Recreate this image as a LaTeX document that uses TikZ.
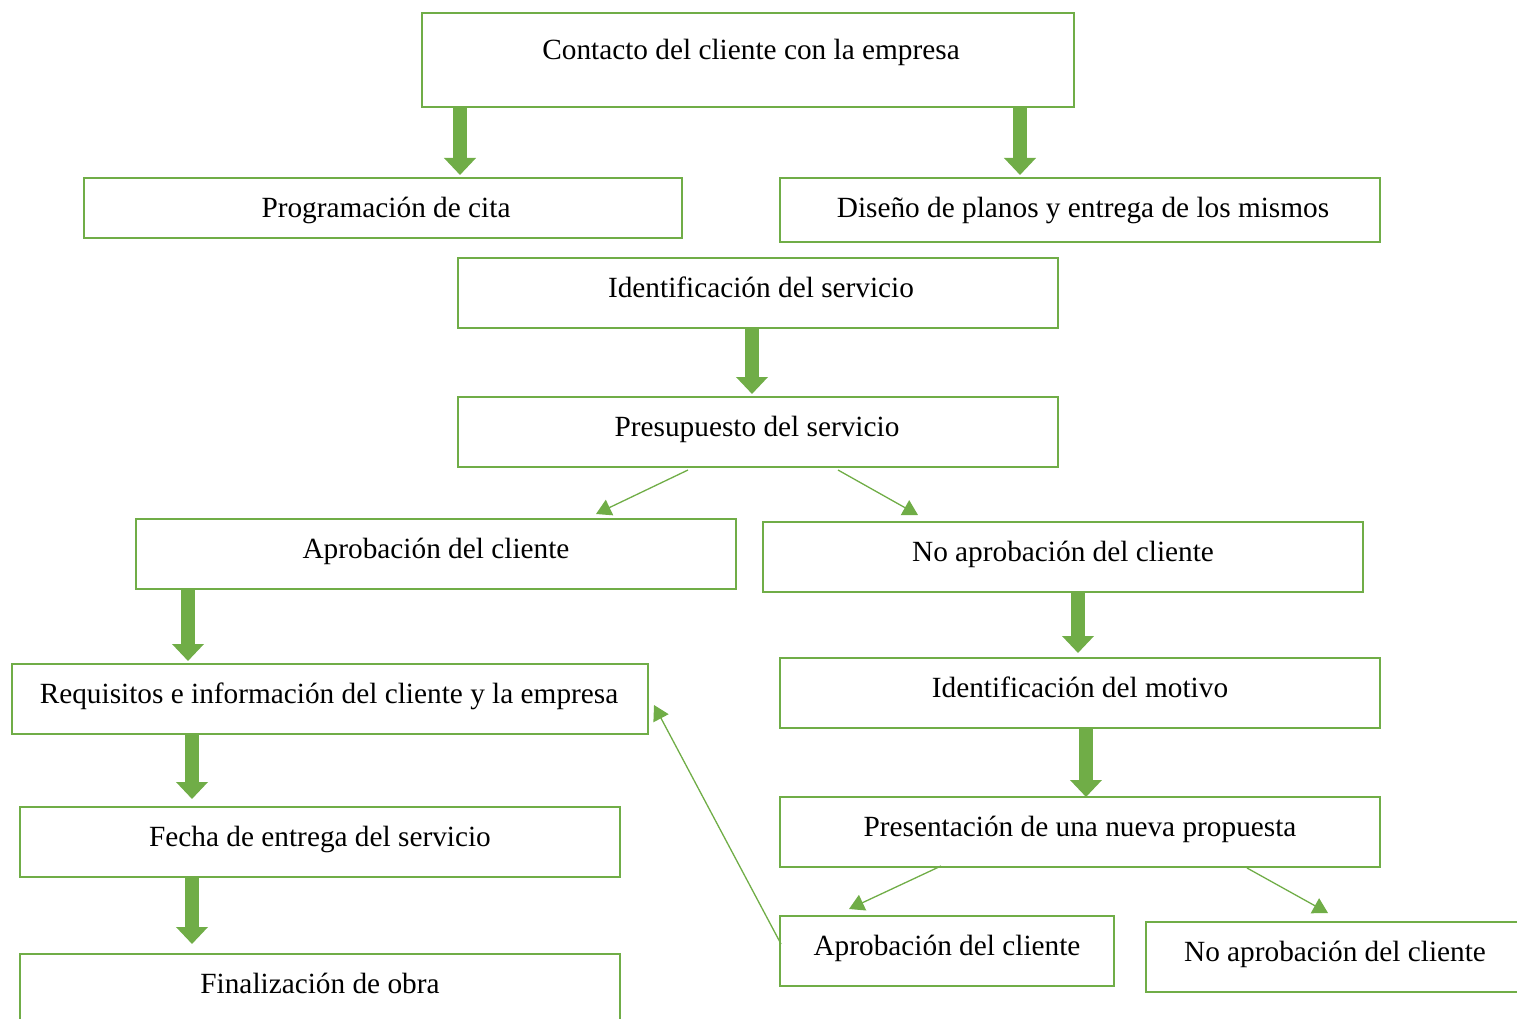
\documentclass[tikz,border=0pt]{standalone}
\usepackage{fontspec}
\setmainfont{Liberation Serif}
\usetikzlibrary{arrows.meta,calc}
\definecolor{grn}{RGB}{112,173,71}
\tikzset{
  box/.style={draw=grn, line width=2.8pt, inner sep=0pt, outer sep=0pt},
  txt/.style={font=\fontsize{29.3}{33}\selectfont, text=black, inner sep=0pt, text height=20.5pt, text depth=6.4pt},
  bigarrow/.style={draw=grn, line width=14pt, -{Triangle[width=31pt,length=17pt]}},
  thinarrow/.style={draw=grn, line width=1.3pt, -{Triangle[width=17pt,length=15pt]}}
}
\newcommand\mybox[5]{\node[box, minimum width={(#4-#2)*1pt}, minimum height={(#5-#3)*1pt}] (#1) at ({(#2+#4)/2},{(#3+#5)/2}) {};}
\begin{document}
\begin{tikzpicture}[x=1pt,y=-1pt]
\useasboundingbox (0,0) rectangle (1517,1019);
\clip (0,0) rectangle (1517,1019);
% boxes
\mybox{contacto}{422}{13}{1074}{107}
\mybox{prog}{84}{178}{682}{238}
\mybox{diseno}{780}{178}{1380}{242}
\mybox{identserv}{458}{258}{1058}{328}
\mybox{presup}{458}{397}{1058}{467}
\mybox{aprob}{136}{519}{736}{589}
\mybox{noaprob}{763}{522}{1363}{592}
\mybox{requis}{12}{664}{648}{734}
\mybox{motivo}{780}{658}{1380}{728}
\mybox{fecha}{20}{807}{620}{877}
\mybox{propuesta}{780}{797}{1380}{867}
\mybox{final}{20}{954}{620}{1030}
\mybox{aprobdos}{780}{916}{1114}{986}
\mybox{noaprobdos}{1146}{922}{1530}{992}
% texts
\node[txt] (t1) at (751,52) {Contacto del cliente con la empresa};
\node[txt] (t2) at (386,210) {Programación de cita};
\node[txt] (t3) at (1083,210) {Diseño de planos y entrega de los mismos};
\node[txt] (t4) at (761,290) {Identificación del servicio};
\node[txt] (t5) at (757,429) {Presupuesto del servicio};
\node[txt] (t6) at (436,551) {Aprobación del cliente};
\node[txt] (t7) at (1063,554) {No aprobación del cliente};
\node[txt] (t8) at (329,696) {Requisitos e información del cliente y la empresa};
\node[txt] (t9) at (1080,690) {Identificación del motivo};
\node[txt] (t10) at (320,839) {Fecha de entrega del servicio};
\node[txt] (t11) at (1080,829) {Presentación de una nueva propuesta};
\node[txt] (t12) at (320,986) {Finalización de obra};
\node[txt] (t13) at (947,948) {Aprobación del cliente};
\node[txt] (t14) at (1335,954) {No aprobación del cliente};
% thick arrows
\draw[bigarrow] ([xshift=38pt]contacto.south west) -- ([xshift=38pt,yshift=3pt]contacto.south west |- prog.north);
\draw[bigarrow] ([xshift=598pt]contacto.south west) -- ([xshift=598pt,yshift=3pt]contacto.south west |- diseno.north);
\draw[bigarrow] ([xshift=294pt]identserv.south west) -- ([xshift=294pt,yshift=3pt]identserv.south west |- presup.north);
\draw[bigarrow] ([xshift=52pt]aprob.south west) -- ([xshift=52pt,yshift=3pt]aprob.south west |- requis.north);
\draw[bigarrow] ([xshift=315pt]noaprob.south west) -- ([xshift=315pt,yshift=5pt]noaprob.south west |- motivo.north);
\draw[bigarrow] ([xshift=180pt]requis.south west) -- ([xshift=180pt,yshift=8pt]requis.south west |- fecha.north);
\draw[bigarrow] ([xshift=306pt]motivo.south west) -- ([xshift=306pt]motivo.south west |- propuesta.north);
\draw[bigarrow] ([xshift=172pt]fecha.south west) -- ([xshift=172pt,yshift=10pt]fecha.south west |- final.north);
% thin arrows
\draw[thinarrow] ([xshift=230pt,yshift=-3pt]presup.south west) -- ([xshift=460pt,yshift=5pt]aprob.north west);
\draw[thinarrow] ([xshift=380pt,yshift=-3pt]presup.south west) -- ([xshift=155pt,yshift=7pt]noaprob.north west);
\draw[thinarrow] ([xshift=161pt,yshift=1pt]propuesta.south west) -- ([xshift=69pt,yshift=7pt]aprobdos.north west);
\draw[thinarrow] ([xshift=467pt,yshift=-1pt]propuesta.south west) -- ([xshift=182pt,yshift=9pt]noaprobdos.north west);
\draw[thinarrow] ([xshift=1pt,yshift=-28pt]aprobdos.north west) -- ([xshift=6pt,yshift=-6pt]requis.east);
\end{tikzpicture}
\end{document}
